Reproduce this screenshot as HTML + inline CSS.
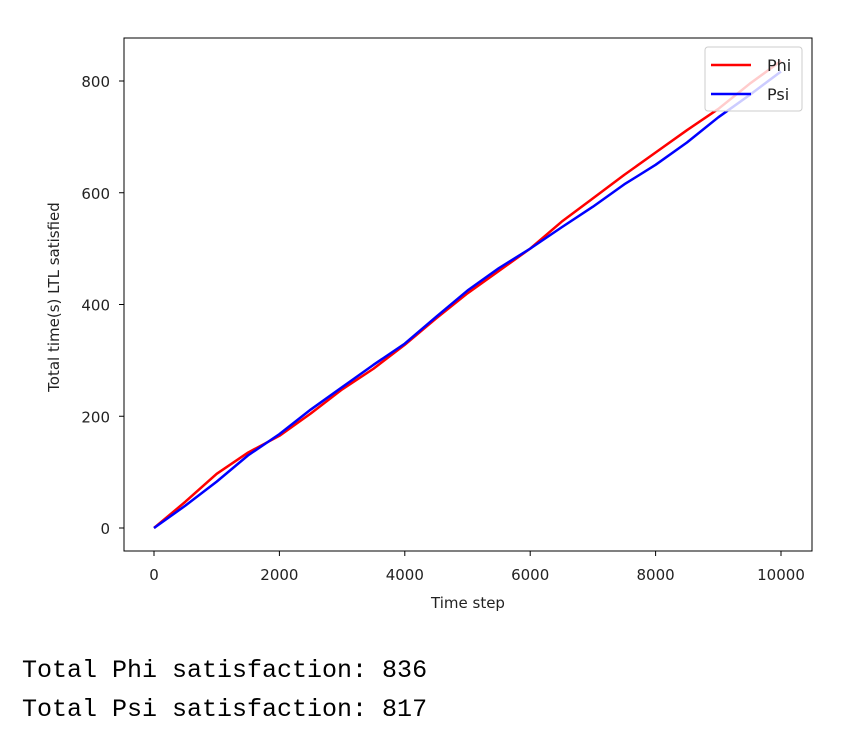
<!DOCTYPE html>
<html><head><meta charset="utf-8"><style>
body{margin:0;background:#fff;width:841px;height:729px;overflow:hidden;}
.out{position:absolute;left:22px;font-family:"Liberation Mono",monospace;font-size:25px;color:#000;}
</style></head><body>
<svg width="841" height="640" style="position:absolute;left:0;top:0" font-family="DejaVu Sans, Liberation Sans, sans-serif">
<g id="plot"></g>
</svg>
<div class="out" style="top:656px">Total Phi satisfaction: 836</div>
<div class="out" style="top:695px">Total Psi satisfaction: 817</div>
<script>
const steps=[0,500,1000,1500,2000,2500,3000,3500,4000,4500,5000,5500,6000,6500,7000,7500,8000,8500,9000,9500,10000];
const phiVals=[0,47,97,135,165,205,248,285,328,375,420,460,500,548,590,632,672,712,750,795,836];
const psiVals=[0,40,83,130,168,212,252,292,330,378,425,465,500,538,575,615,650,690,735,775,817];
const xTicks=[0,2000,4000,6000,8000,10000];
const yTicks=[0,200,400,600,800];
const L=124,R=812,T=38,B=551;
const xs=t=>154+t*(781-154)/10000;
const ys=v=>528-v*(528-81)/800;
const NS="http://www.w3.org/2000/svg";
const g=document.getElementById('plot');
function mk(tag,attrs,parent){const e=document.createElementNS(NS,tag);for(const k in attrs)e.setAttribute(k,attrs[k]);(parent||g).appendChild(e);return e;}
function series(vals,color,name){
  const p=mk('polyline',{points:steps.map((t,i)=>xs(t)+','+ys(vals[i])).join(' '),fill:'none',stroke:color,'stroke-width':2.5,'stroke-linejoin':'round'});
  
  
}
series(phiVals,'#ff0000','phi-line');
series(psiVals,'#0000ff','psi-line');
const frame=mk('rect',{x:L,y:T,width:R-L,height:B-T,fill:'none',stroke:'#000','stroke-width':1});


xTicks.forEach(t=>{
  mk('line',{x1:xs(t),x2:xs(t),y1:B,y2:B+5,stroke:'#000'});
  const tx=mk('text',{x:xs(t),y:B+29,'text-anchor':'middle','font-size':15,fill:'#222'});
  tx.textContent=t;
  
  
});
yTicks.forEach(v=>{
  mk('line',{x1:L-5,x2:L,y1:ys(v),y2:ys(v),stroke:'#000'});
  const tx=mk('text',{x:L-14,y:ys(v)+6,'text-anchor':'end','font-size':15,fill:'#222'});
  tx.textContent=v;
  
  
});
const xl=mk('text',{x:468,y:608,'text-anchor':'middle','font-size':15,fill:'#222'});
xl.textContent='Time step';


const yl=mk('text',{x:0,y:0,'text-anchor':'middle','font-size':15,fill:'#222',transform:'translate(59,297) rotate(-90)'});
yl.textContent='Total time(s) LTL satisfied';


const lg=mk('g',{});


mk('rect',{x:705,y:47,width:97,height:64,rx:3,fill:'#fff','fill-opacity':0.8,stroke:'#ccc'},lg);
[['Phi','#ff0000',65],['Psi','#0000ff',94]].forEach(([n,c,y])=>{
  mk('line',{x1:711,x2:751,y1:y,y2:y,stroke:c,'stroke-width':2.5},lg);
  const t=mk('text',{x:767,y:y+6,'font-size':16,fill:'#222'},lg);
  t.textContent=n;
  
  
});
</script>
</body></html>
